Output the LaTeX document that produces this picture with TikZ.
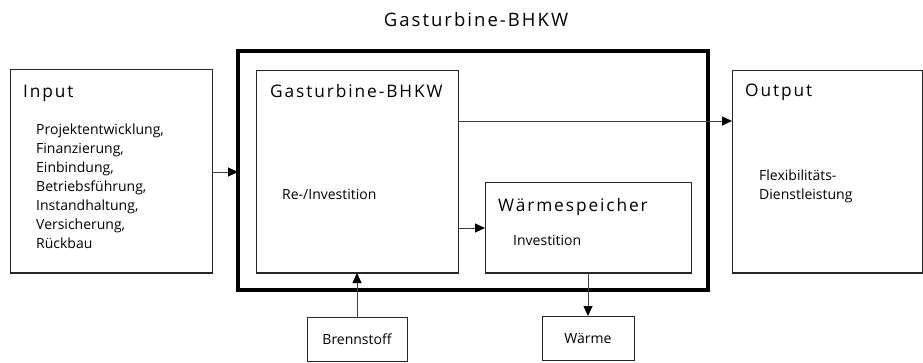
\documentclass[tikz,border=0pt]{standalone}
\usepackage{fontspec}
\setmainfont{Open Sans}
\newfontfamily\bigfont[LetterSpace=11]{Open Sans}
\usetikzlibrary{arrows.meta}
\begin{document}
\begin{tikzpicture}[x=1pt,y=-1pt,
  box/.style={draw=black!85,line width=1pt,inner sep=0pt,outer sep=0pt,anchor=north west},
  big/.style={font=\bigfont\fontsize{17.3}{20}\selectfont,inner sep=0pt,anchor=base west},
  small/.style={font=\fontsize{14}{19}\selectfont,inner sep=0pt,align=left},
  conn/.style={draw=black!75,line width=0.9pt,-{Triangle[length=10pt,width=9pt,color=black]}}]
\useasboundingbox (0,0) rectangle (923,363);
% boxes
\node[box,minimum width=202pt,minimum height=203pt] (in) at (10,70) {};
\node[draw=black,line width=4pt,inner sep=0pt,outer sep=0pt,anchor=north west,minimum width=470pt,minimum height=239pt] (sys) at (238,51) {};
\node[box,minimum width=202pt,minimum height=202pt] (gt) at (256,71) {};
\node[box,minimum width=206pt,minimum height=90pt] (ws) at (485,183) {};
\node[box,minimum width=190pt,minimum height=202pt] (out) at (732,71) {};
\node[box,minimum width=100pt,minimum height=44pt] (bs) at (307,317) {};
\node[box,minimum width=92pt,minimum height=44pt] (wm) at (542,316) {};
% labels
\node[big,anchor=base,font=\bigfont\fontsize{18.5}{20}\selectfont] (title) at (476,27) {Gasturbine-BHKW};
\node[big] (inlab) at (23,98) {Input};
\node[big] (gtlab) at (270,98) {Gasturbine-BHKW};
\node[big] (wslab) at (498,212) {Wärmespeicher};
\node[big] (outlab) at (745,97) {Output};
\node[small,anchor=north west] (intext) at (36,124) {Projektentwicklung,\\Finanzierung,\\Einbindung,\\Betriebsführung,\\Instandhaltung,\\Versicherung,\\Rückbau};
\node[small,anchor=west] (gttext) at (282,194) {Re-/Investition};
\node[small,anchor=west] (wstext) at (513,240) {Investition};
\node[small,anchor=west] (outtext) at (759,186) {Flexibilitäts-\\Dienstleistung};
\node[small] (bstext) at (bs.center) {Brennstoff};
\node[small] (wmtext) at (wm.center) {Wärme};
% connectors
\draw[conn] (in.east |- 0,172) -- (sys.west |- 0,172);
\draw[conn] (gt.east |- 0,121) -- (out.west |- 0,121);
\draw[conn] (gt.east |- 0,228) -- (ws.west |- 0,228);
\draw[conn] (bs.north) -- (gt.south -| bs.north);
\draw[conn] (ws.south -| 588,0) -- (wm.north -| 588,0);
\end{tikzpicture}
\end{document}
